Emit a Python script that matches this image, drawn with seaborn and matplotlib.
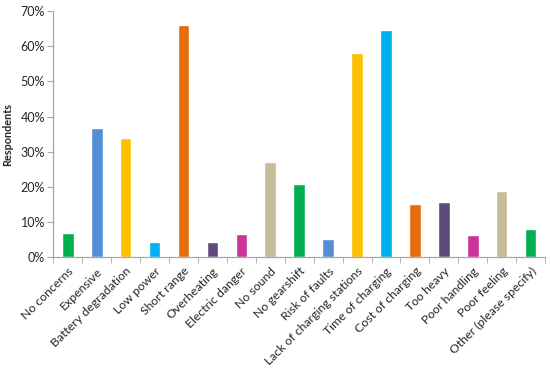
import matplotlib
matplotlib.use("Agg")
import matplotlib.pyplot as plt
import seaborn as sns
import numpy as np
import pandas as pd
from matplotlib.ticker import PercentFormatter, FixedLocator

# survey answers (share of respondents, %)
categories = [
    "No concerns", "Expensive", "Battery degradation", "Low power", "Short range",
    "Overheating", "Electric danger", "No sound", "No gearshift", "Risk of faults",
    "Lack of charging stations", "Time of charging", "Cost of charging", "Too heavy",
    "Poor handling", "Poor feeling", "Other (please specify)",
]
values = [7.0, 36.7, 34.0, 4.2, 66.0, 4.4, 6.6, 27.0, 20.7, 5.1,
          58.1, 64.6, 15.2, 15.7, 6.4, 18.9, 7.9]
base_colors = ["#00B050", "#558ED5", "#FFC000", "#00B0F0",
               "#E46C0A", "#604A7B", "#CC3399", "#C4BD97"]
colors = [base_colors[i % len(base_colors)] for i in range(len(categories))]

df = pd.DataFrame({"category": categories, "value": values})

sns.set_style("white")
plt.rcParams["font.family"] = ["Lato", "DejaVu Sans"]

fig = plt.figure(figsize=(5.5, 3.69), dpi=100)
ax = fig.add_axes([0.097, 0.303, 0.894, 0.667])

sns.barplot(data=df, x="category", y="value", hue="category",
            palette=colors, width=0.4, legend=False, saturation=1, ax=ax)

ax.set_ylim(0, 70)
ax.set_xlim(-0.5, len(categories) - 0.5)
ax.yaxis.set_major_locator(FixedLocator(np.arange(0, 71, 10)))
ax.yaxis.set_major_formatter(PercentFormatter(decimals=0))
ax.set_ylabel("Respondents", fontsize=7.8, fontweight="bold", labelpad=5)
ax.set_xlabel("")

# category boundaries carry the tick marks, labels sit at centres
ax.xaxis.set_minor_locator(FixedLocator(np.arange(-0.5, len(categories), 1)))
ax.tick_params(axis="x", which="major", length=0, pad=6)
ax.tick_params(axis="x", which="minor", length=4, color="#A6A6A6", direction="out", bottom=True)
ax.tick_params(axis="y", length=4, color="#A6A6A6", direction="out", left=True, labelsize=9, pad=2)
for lab in ax.get_xticklabels():
    lab.set_rotation(45)
    lab.set_ha("right")
    lab.set_rotation_mode("anchor")
    lab.set_fontsize(8.8)

sns.despine(ax=ax)
for side in ["left", "bottom"]:
    ax.spines[side].set_color("#A6A6A6")
    ax.spines[side].set_linewidth(0.9)

fig.savefig("out.png", dpi=100)
